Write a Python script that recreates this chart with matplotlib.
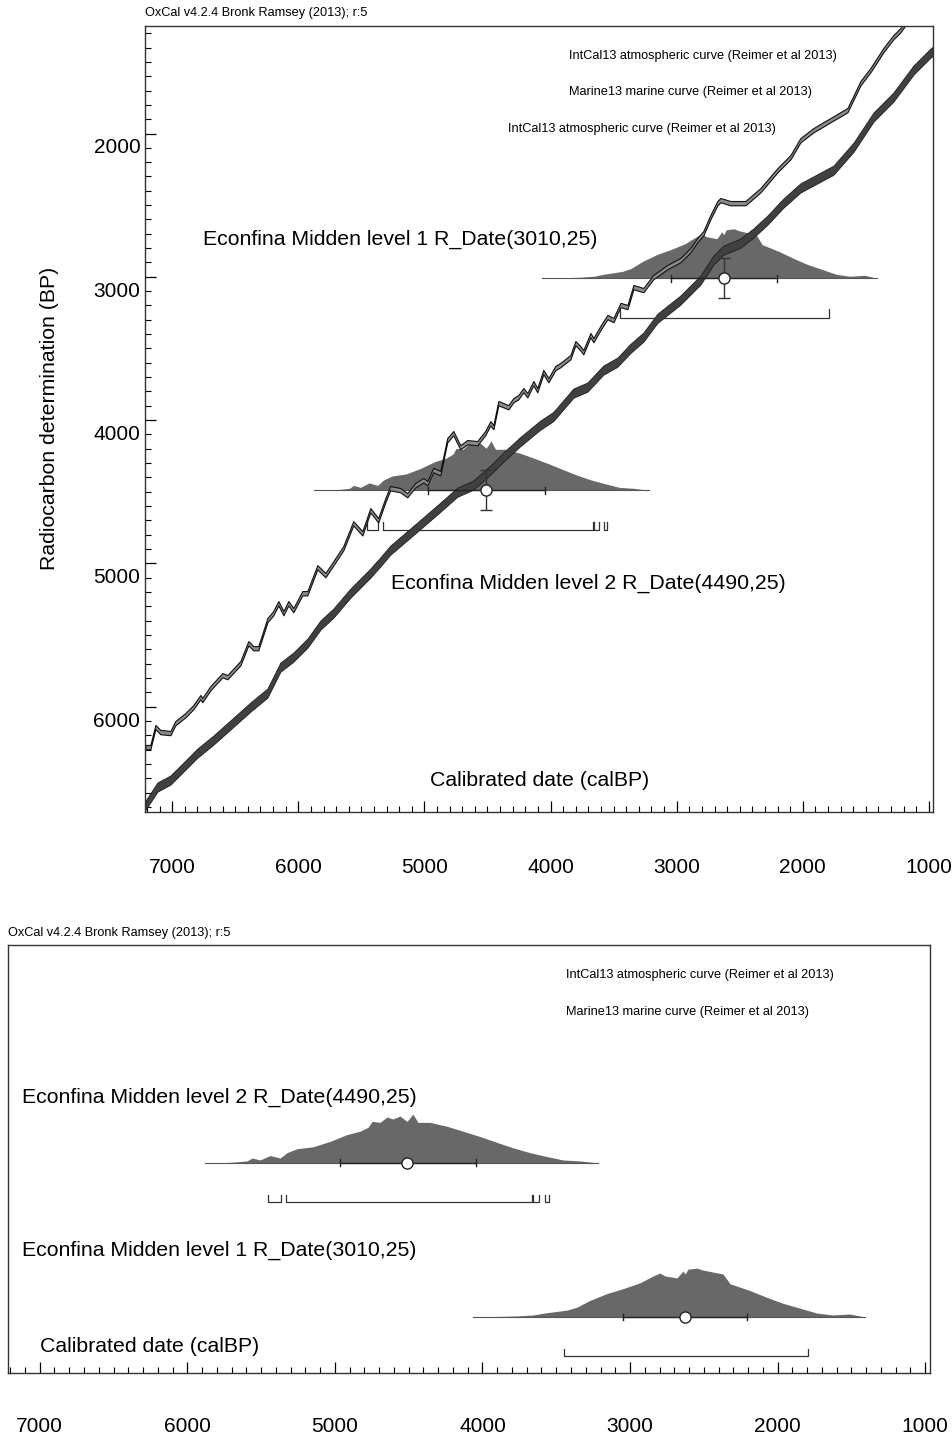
#!/usr/bin/env python3
import numpy as np
import matplotlib
matplotlib.use('Agg')
import matplotlib.pyplot as plt
from matplotlib.ticker import FixedLocator, MultipleLocator

plt.rcParams['font.family'] = ['Liberation Sans', 'DejaVu Sans']

# axis ticks (cal BP / 14C BP)
x_ticks = [7000, 6000, 5000, 4000, 3000, 2000, 1000]
y_ticks = [2000, 3000, 4000, 5000, 6000]

# calibration curves: (cal BP, 14C BP)
intcal13 = [
    (7212, 6282), (7173, 6282), (7133, 6142), (7094, 6177), (7014, 6184),
    (6975, 6115), (6895, 6059), (6832, 6003), (6776, 5933), (6761, 5954),
    (6697, 5871), (6602, 5780), (6562, 5794), (6459, 5696), (6396, 5557),
    (6356, 5592), (6317, 5592), (6245, 5396), (6198, 5347), (6158, 5278),
    (6118, 5347), (6079, 5278), (6039, 5326), (5968, 5208), (5928, 5208),
    (5849, 5027), (5785, 5082), (5722, 4999), (5643, 4894), (5564, 4720),
    (5492, 4790), (5429, 4629), (5366, 4699), (5310, 4559), (5271, 4475),
    (5191, 4489), (5136, 4524), (5072, 4454), (5009, 4419), (4977, 4440),
    (4930, 4349), (4874, 4370), (4819, 4140), (4771, 4091), (4716, 4189),
    (4660, 4154), (4581, 4161), (4518, 4091), (4477, 4022), (4453, 4049),
    (4414, 3882), (4374, 3896), (4334, 3910), (4295, 3861), (4255, 3840),
    (4216, 3791), (4184, 3826), (4136, 3742), (4105, 3791), (4057, 3665),
    (4017, 3721), (3962, 3637), (3922, 3616), (3843, 3561), (3803, 3463),
    (3764, 3498), (3740, 3526), (3684, 3407), (3660, 3442), (3605, 3358),
    (3549, 3281), (3501, 3302), (3446, 3197), (3390, 3211), (3343, 3072),
    (3264, 3093), (3185, 3002), (3074, 2932), (2971, 2884), (2891, 2814),
    (2836, 2744), (2788, 2695), (2733, 2584), (2677, 2486), (2653, 2465),
    (2574, 2486), (2455, 2486), (2336, 2396), (2201, 2256), (2098, 2165),
    (2019, 2047), (1916, 1977), (1781, 1907), (1646, 1837), (1543, 1649),
    (1464, 1558), (1361, 1418), (1282, 1328), (1226, 1279), (1186, 1230),
]
marine13 = [
    (7212, 6689), (7117, 6561), (7014, 6512), (6911, 6422), (6800, 6324),
    (6673, 6233), (6539, 6128), (6380, 6003), (6245, 5905), (6142, 5724),
    (6039, 5654), (5928, 5557), (5825, 5431), (5722, 5347), (5587, 5208),
    (5429, 5068), (5350, 4990), (5271, 4908), (5057, 4747), (4874, 4608),
    (4739, 4503), (4613, 4454), (4478, 4349), (4375, 4259), (4240, 4150),
    (4081, 4035), (3978, 3975), (3819, 3812), (3708, 3770), (3581, 3651),
    (3470, 3596), (3367, 3500), (3264, 3421), (3153, 3290), (2971, 3163),
    (2812, 3023), (2709, 2884), (2629, 2814), (2495, 2765), (2392, 2695),
    (2281, 2605), (2154, 2486), (2019, 2380), (1757, 2256), (1598, 2096),
    (1440, 1886), (1282, 1746), (1123, 1558), (989, 1440), (960, 1420),
]
intcal_sigma = 15
marine_sigma = 32

# the two dates
labels = ['Econfina Midden level 1 R_Date(3010,25)',
          'Econfina Midden level 2 R_Date(4490,25)']
rc_age = [3010, 4490]
rc_err = [140, 140]
cal_mean = [2625, 4510]
one_sigma = [(3045, 2204), (4968, 4046)]
two_sigma = [[(3447, 1792)],
             [(5455, 5368), (5332, 3662), (3655, 3615), (3578, 3552)]]

lvl1_cal = [4066, 3768, 3657, 3580, 3428, 3360, 3271, 3156, 3047, 2932, 2844,
            2797, 2763, 2682, 2641, 2627, 2607, 2546, 2505, 2370, 2322, 2187,
            2072, 1964, 1849, 1734, 1626, 1511, 1409]
lvl1_prob = [0, 0.02, 0.04, 0.08, 0.14, 0.2, 0.34, 0.48, 0.58, 0.7, 0.84,
             0.9, 0.84, 0.8, 0.94, 0.88, 0.98, 1.0, 0.96, 0.88, 0.68, 0.54,
             0.4, 0.28, 0.18, 0.08, 0.04, 0.06, 0]
lvl2_cal = [5879, 5710, 5595, 5561, 5507, 5439, 5371, 5324, 5256, 5148, 5033,
            4918, 4829, 4775, 4748, 4694, 4647, 4606, 4559, 4511, 4471, 4437,
            4355, 4240, 4132, 4017, 3902, 3794, 3679, 3563, 3455, 3340, 3218]
lvl2_prob = [0, 0.01, 0.04, 0.1, 0.06, 0.15, 0.1, 0.21, 0.29, 0.33, 0.44,
             0.58, 0.65, 0.73, 0.85, 0.83, 0.94, 0.9, 0.96, 0.85, 1.0, 0.83,
             0.83, 0.75, 0.65, 0.54, 0.42, 0.31, 0.21, 0.13, 0.06, 0.04, 0]

DIST_COLOR = '#686868'
TITLE = 'OxCal v4.2.4 Bronk Ramsey (2013); r:5'
BIG = 15.3
SMALL = 9.2


def draw_date(ax, cal, prob, base, hscale, s1, s2, br_off, br_tick, cap):
    cal = np.asarray(cal)
    top = base + np.asarray(prob) * hscale
    ax.fill_between(cal, base, top, color=DIST_COLOR, lw=0, zorder=1)
    ax.plot([cal[0], cal[-1]], [base, base], color='#555555', lw=0.8, zorder=1)
    # 1 sigma range
    ax.plot([s1[0], s1[1]], [base, base], color='#222222', lw=1.0, zorder=3)
    for c in s1:
        ax.plot([c, c], [base - cap, base + cap], color='#222222', lw=1.0, zorder=3)
    # 2 sigma brackets
    yb = base + br_off
    for a, b in s2:
        ax.plot([a, a, b, b], [yb + br_tick, yb, yb, yb + br_tick],
                color='#333333', lw=0.9, zorder=1)


def style_xaxis(ax, pad):
    ax.xaxis.set_major_locator(FixedLocator(x_ticks))
    ax.xaxis.set_minor_locator(MultipleLocator(100))
    ax.set_xticklabels([str(t) for t in x_ticks])
    ax.tick_params(axis='x', which='major', direction='in', length=8,
                   width=0.9, pad=pad, labelsize=15, top=False)
    ax.tick_params(axis='x', which='minor', direction='in', length=4,
                   width=0.8, top=False)
    for s in ax.spines.values():
        s.set_linewidth(1.0)
        s.set_color('#333333')


def main():
    fig = plt.figure(figsize=(9.53, 14.38), dpi=100)

    # ---------------- top panel: calibration curves ----------------
    ax1 = fig.add_axes([0.1522, 0.4353, 0.8269, 0.5466])
    ax1.set_xlim(7215, 967)
    ax1.set_ylim(6735, 1250)
    style_xaxis(ax1, 33)
    ax1.yaxis.set_major_locator(FixedLocator(y_ticks))
    ax1.yaxis.set_minor_locator(MultipleLocator(100))
    ax1.tick_params(axis='y', which='major', direction='in', length=8,
                    width=0.9, labelleft=False, right=False)
    ax1.tick_params(axis='y', which='minor', direction='in', length=4,
                    width=0.8, right=False)
    # OxCal prints the labels one minor step below their tick
    ytr = ax1.get_yaxis_transform()
    for v in y_ticks:
        ax1.text(-0.006, v + 100, str(v), transform=ytr, ha='right',
                 va='center', fontsize=15)

    ic = np.array(intcal13, dtype=float)
    mc = np.array(marine13, dtype=float)
    ax1.fill_between(mc[:, 0], mc[:, 1] - marine_sigma, mc[:, 1] + marine_sigma,
                     color='#404040', edgecolor='#1e1e1e', lw=0.6, zorder=2)
    ax1.fill_between(ic[:, 0], ic[:, 1] - intcal_sigma, ic[:, 1] + intcal_sigma,
                     color='#8a8a8a', edgecolor='#111111', lw=0.8, zorder=2)

    dists = [(lvl1_cal, lvl1_prob), (lvl2_cal, lvl2_prob)]
    for i, (cal, prob) in enumerate(dists):
        draw_date(ax1, cal, prob, rc_age[i], -345, one_sigma[i],
                  two_sigma[i], 278, -60, 25)
        ax1.errorbar(cal_mean[i], rc_age[i], yerr=rc_err[i], color='#333333',
                     lw=1.0, capsize=4, capthick=1.0, zorder=3)
        ax1.plot(cal_mean[i], rc_age[i], 'o', ms=8, mfc='white', mec='#222222',
                 mew=1.0, zorder=4)

    ax1.text(0.538, 0.962, 'IntCal13 atmospheric curve (Reimer et al 2013)',
             transform=ax1.transAxes, fontsize=SMALL, va='center')
    ax1.text(0.538, 0.916, 'Marine13 marine curve (Reimer et al 2013)',
             transform=ax1.transAxes, fontsize=SMALL, va='center')
    ax1.text(0.461, 0.869, 'IntCal13 atmospheric curve (Reimer et al 2013)',
             transform=ax1.transAxes, fontsize=SMALL, va='center')
    ax1.text(0.0736, 0.729, labels[0], transform=ax1.transAxes, fontsize=BIG,
             va='center')
    ax1.text(0.312, 0.291, labels[1], transform=ax1.transAxes, fontsize=BIG,
             va='center')
    ax1.text(0.501, 0.0407, 'Calibrated date (calBP)', transform=ax1.transAxes,
             fontsize=BIG, ha='center', va='center')
    fig.text(0.1522, 0.991, TITLE, fontsize=SMALL, va='center')
    fig.text(50 / 953, 1 - 418 / 1438, 'Radiocarbon determination (BP)',
             rotation=90, fontsize=BIG, ha='center', va='center')

    # ---------------- bottom panel: multiplot ----------------
    ax2 = fig.add_axes([0.0084, 0.0452, 0.9675, 0.2976])
    ax2.set_xlim(7215, 967)
    ax2.set_ylim(0, 1)
    style_xaxis(ax2, 32)
    ax2.set_yticks([])

    bases = [0.131, 0.491]
    for i, (cal, prob) in enumerate(dists):
        draw_date(ax2, cal, prob, bases[i], 0.114, one_sigma[i],
                  two_sigma[i], -0.091, 0.016, 0.008)
        ax2.plot(cal_mean[i], bases[i], 'o', ms=8, mfc='white', mec='#222222',
                 mew=1.0, zorder=4)

    ax2.text(0.605, 0.930, 'IntCal13 atmospheric curve (Reimer et al 2013)',
             transform=ax2.transAxes, fontsize=SMALL, va='center')
    ax2.text(0.605, 0.843, 'Marine13 marine curve (Reimer et al 2013)',
             transform=ax2.transAxes, fontsize=SMALL, va='center')
    ax2.text(0.0152, 0.645, labels[1], transform=ax2.transAxes, fontsize=BIG,
             va='center')
    ax2.text(0.0152, 0.287, labels[0], transform=ax2.transAxes, fontsize=BIG,
             va='center')
    ax2.text(0.0347, 0.063, 'Calibrated date (calBP)', transform=ax2.transAxes,
             fontsize=BIG, va='center')
    fig.text(0.0084, 0.3512, TITLE, fontsize=SMALL, va='center')

    fig.savefig('out.png', dpi=100)


if __name__ == "__main__":
    main()
